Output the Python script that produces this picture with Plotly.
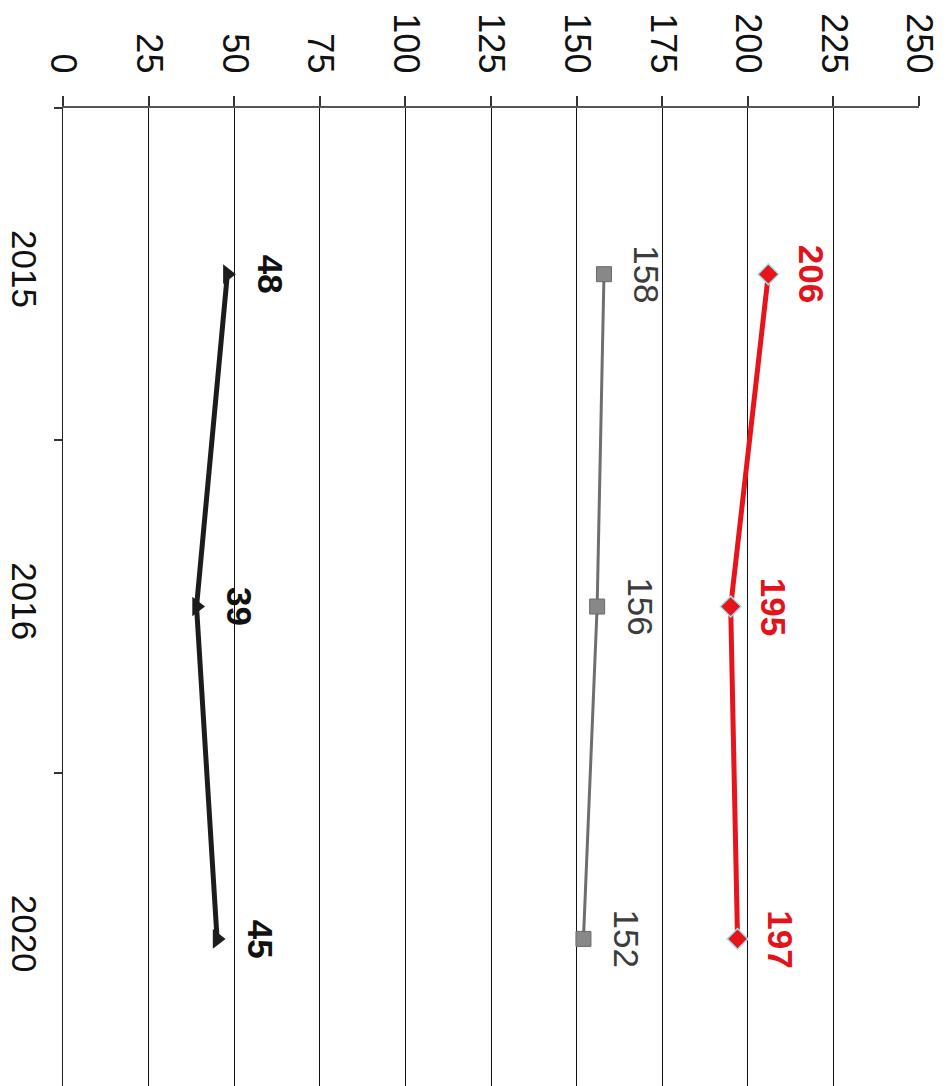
import plotly.graph_objects as go

years = ["2015", "2016", "2020"]
red_vals = [206, 195, 197]
gray_vals = [158, 156, 152]
black_vals = [48, 39, 45]
x_ticks = [0, 25, 50, 75, 100, 125, 150, 175, 200, 225, 250]

FONT = "Liberation Sans, Arial, sans-serif"

fig = go.Figure()

fig.add_trace(go.Scatter(
    x=gray_vals, y=years, mode="lines+markers",
    line=dict(color="#6e6e6e", width=3),
    marker=dict(symbol="square", size=15, color="#888888",
                line=dict(color="#6a6a6a", width=1)),
))
fig.add_trace(go.Scatter(
    x=red_vals, y=years, mode="lines+markers",
    line=dict(color="#e8141c", width=5),
    marker=dict(symbol="diamond", size=16, color="#e8141c",
                line=dict(color="#9fe3ea", width=1.5)),
))
fig.add_trace(go.Scatter(
    x=black_vals, y=years, mode="lines+markers",
    line=dict(color="#1c1c1c", width=5),
    marker=dict(symbol="triangle-right", size=17, color="#1c1c1c"),
))

annotations = []
for vals, color, bold in [(red_vals, "#e3121b", True),
                          (gray_vals, "#3c3c3c", False),
                          (black_vals, "#111111", True)]:
    for i, v in enumerate(vals):
        txt = f"<b>{v}</b>" if bold else str(v)
        annotations.append(dict(
            x=v, y=i, xref="x", yref="y", text=txt, showarrow=False,
            textangle=90, xshift=43,
            font=dict(family=FONT, size=35, color=color),
        ))

y_span = (1086 - 107) / 330.0

fig.update_layout(
    width=947, height=1086,
    margin=dict(l=55, r=36, t=100, b=0, pad=0),
    paper_bgcolor="white", plot_bgcolor="white",
    showlegend=False,
    font=dict(family=FONT, size=36, color="#111111"),
    annotations=annotations,
    xaxis=dict(
        side="top", range=[0, 250], tickvals=x_ticks,
        ticktext=[str(t) for t in x_ticks],
        tickangle=90, ticks="outside", ticklen=10, tickwidth=1.5,
        tickcolor="#333333", ticklabelstandoff=10,
        showline=True, linecolor="#555555", linewidth=2,
        showgrid=True, gridcolor="#111111", gridwidth=1.3,
        zeroline=False, automargin=False,
        tickfont=dict(family=FONT, size=36, color="#111111"),
    ),
    yaxis=dict(
        type="category", categoryorder="array", categoryarray=years,
        range=[-0.5 + y_span, -0.5],
        tickangle=90, ticks="outside", tickson="boundaries",
        ticklen=8, tickwidth=1.5, tickcolor="#333333",
        ticklabelstandoff=8,
        showline=True, linecolor="#222222", linewidth=1.3,
        showgrid=False, zeroline=False, automargin=False,
        tickfont=dict(family=FONT, size=35, color="#111111"),
    ),
)

fig.write_html("out.html")
